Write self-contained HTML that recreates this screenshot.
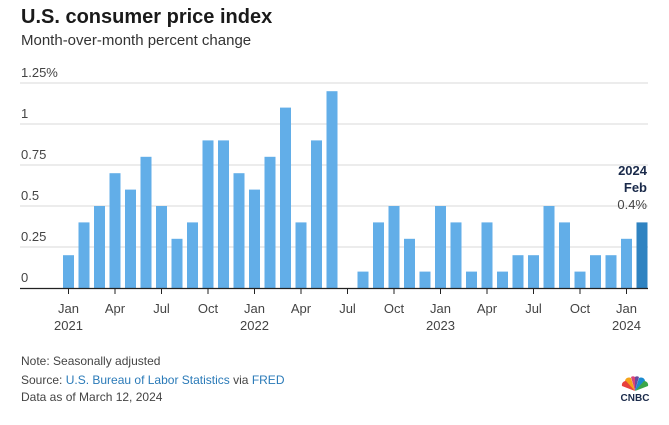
<!DOCTYPE html>
<html><head><meta charset="utf-8"><style>
body{margin:0;background:#fff;width:669px;height:425px;overflow:hidden;font-family:"Liberation Sans",sans-serif;}
.t{position:absolute;white-space:nowrap;}
</style></head><body>
<div class="t" style="left:21px;top:6px;font-size:20px;font-weight:bold;color:#1a1a1a;">U.S. consumer price index</div>
<div class="t" style="left:21px;top:32px;font-size:15px;color:#333;">Month-over-month percent change</div>
<svg id="c" width="669" height="425" style="position:absolute;left:0;top:0"></svg>
<div class="t" style="left:21px;top:354px;font-size:12px;color:#444;">Note: Seasonally adjusted</div>
<div class="t" style="left:21px;top:373px;font-size:12px;color:#444;">Source: <span style="color:#2a7ab8">U.S. Bureau of Labor Statistics</span> via <span style="color:#2a7ab8">FRED</span></div>
<div class="t" style="left:21px;top:390px;font-size:12px;color:#444;">Data as of March 12, 2024</div>
<div class="t" style="left:615px;top:375px;width:40px;text-align:center;">
<svg width="28" height="16" viewBox="0 0 28 16"><path d="M14 16L4 6a4 4 0 0 1 6-3z" fill="#f5a31a"/><path d="M14 16L1 11a4 4 0 0 1 4-5z" fill="#e8403d"/><path d="M14 16L10 2a3 3 0 0 1 4 0z" fill="#d9447a"/><path d="M14 16L14 2a3 3 0 0 1 4 0z" fill="#6a4a9e"/><path d="M14 16L18 3a4 4 0 0 1 6 3z" fill="#1b8bd0"/><path d="M14 16L23 6a4 4 0 0 1 4 5z" fill="#3aa649"/></svg>
<div style="font-size:10px;font-weight:bold;color:#1a2a4a;margin-top:-3px;">CNBC</div></div>
<script>
const values=[0.2,0.4,0.5,0.7,0.6,0.8,0.5,0.3,0.4,0.9,0.9,0.7,0.6,0.8,1.1,0.4,0.9,1.2,0,0.1,0.4,0.5,0.3,0.1,0.5,0.4,0.1,0.4,0.1,0.2,0.2,0.5,0.4,0.1,0.2,0.2,0.3,0.4];
const yTicks=[0,0.25,0.5,0.75,1,1.25];
const yTickLabels=["0","0.25","0.5","0.75","1","1.25%"];
const monthLabels=["Jan","Apr","Jul","Oct"];
const years=["2021","2022","2023","2024"];
const NS="http://www.w3.org/2000/svg";
const svg=document.getElementById('c');
const y=v=>288-v*164;
const x=i=>68.5+i*15.5;
function el(t,a){const e=document.createElementNS(NS,t);for(const k in a)e.setAttribute(k,a[k]);svg.appendChild(e);return e;}
yTicks.forEach((v,i)=>{
 if(v>0){const g=el('line',{x1:20,x2:648,y1:y(v),y2:y(v),stroke:'#d8d8d8','stroke-width':1});
 
 }
 const t=el('text',{x:21,y:y(v)-6,'font-size':13,fill:'#444','font-family':'Liberation Sans'});
 t.textContent=yTickLabels[i];
 
 
});
values.forEach((v,i)=>{
 const r=el('rect',{x:x(i)-5.5,y:y(v),width:11,height:288-y(v),fill:i==values.length-1?'#2f83c1':'#62aee8'});
 
 
});
const ax=el('line',{x1:20,x2:648,y1:288.5,y2:288.5,stroke:'#222','stroke-width':1.2});


for(let i=0;i<values.length;i+=3){
 const tk=el('line',{x1:x(i),x2:x(i),y1:288,y2:294,stroke:'#222','stroke-width':1});
 
 
 const t=el('text',{x:x(i),y:313,'font-size':13,fill:'#444','text-anchor':'middle','font-family':'Liberation Sans'});
 t.textContent=monthLabels[(i/3)%4];
 
 
 if(i%12==0){const yt=el('text',{x:x(i),y:330,'font-size':13,fill:'#444','text-anchor':'middle','font-family':'Liberation Sans'});
 yt.textContent=years[i/12];
 
 }
}
const last=values.length-1;
const a1=el('text',{x:647,y:175,'font-size':13,'font-weight':'bold',fill:'#1a2a4a','text-anchor':'end','font-family':'Liberation Sans'});a1.textContent=years[3];


const a2=el('text',{x:647,y:192,'font-size':13,'font-weight':'bold',fill:'#1a2a4a','text-anchor':'end','font-family':'Liberation Sans'});a2.textContent='Feb';


const a3=el('text',{x:647,y:209,'font-size':13,fill:'#444','text-anchor':'end','font-family':'Liberation Sans'});a3.textContent=values[last]+'%';


</script>
</body></html>
